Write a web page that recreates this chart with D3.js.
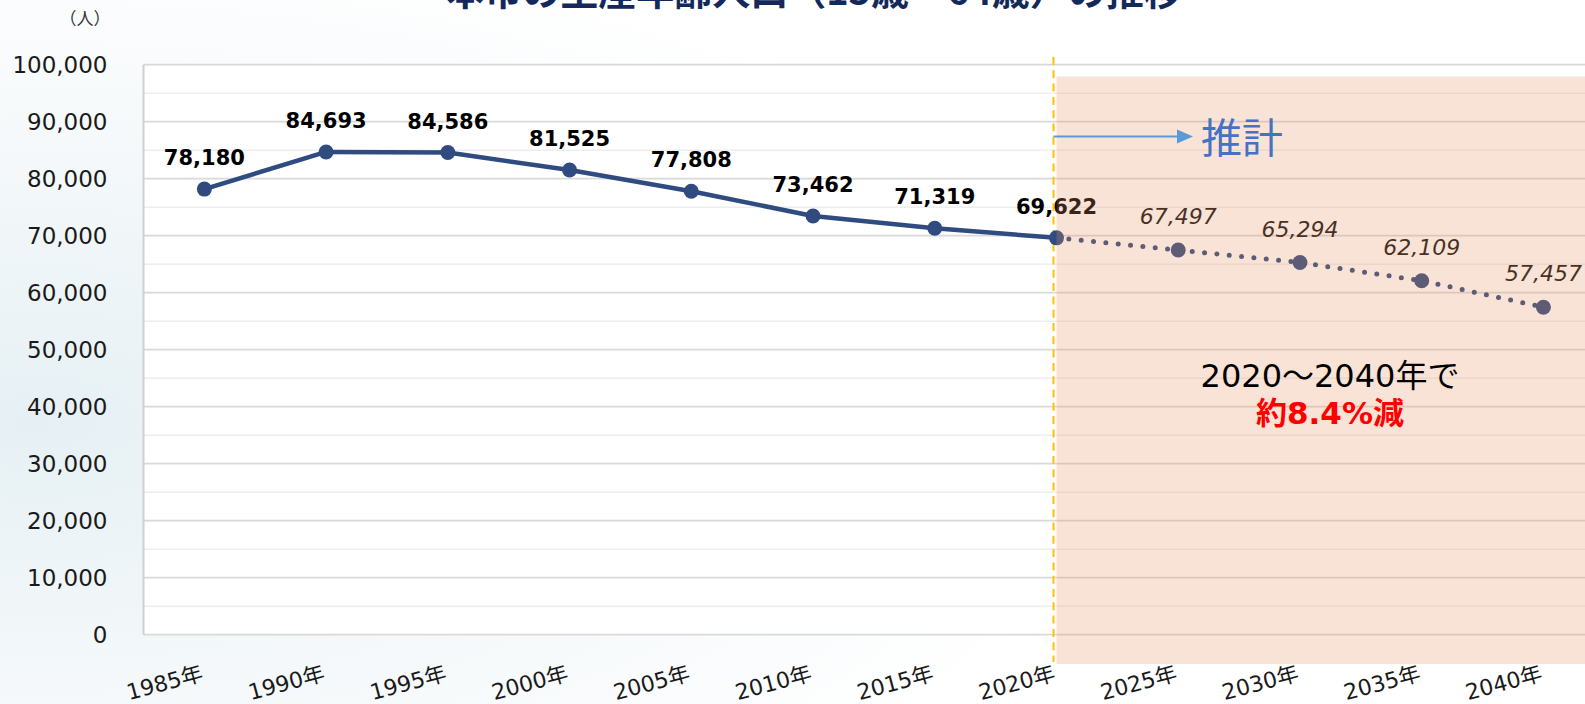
<!DOCTYPE html>
<html>
<head>
<meta charset="utf-8">
<script src="https://cdn.jsdelivr.net/npm/d3@7"></script>
<style>
body { margin: 0; background: #fff; }
svg { display: block; }
</style>
</head>
<body>
<div id="chart"></div>
<script>
// 生産年齢人口の推移（実績と推計）
const years = ["1985年", "1990年", "1995年", "2000年", "2005年", "2010年",
               "2015年", "2020年", "2025年", "2030年", "2035年", "2040年"];
const actualValues = [78180, 84693, 84586, 81525, 77808, 73462, 71319, 69622];
const projectedYears = ["2020年", "2025年", "2030年", "2035年", "2040年"];
const projectedValues = [69622, 67497, 65294, 62109, 57457];
const yTicks = [0, 10000, 20000, 30000, 40000, 50000, 60000, 70000, 80000, 90000, 100000];
const titleText = "本市の生産年齢人口（15歳～64歳）の推移";
const unitText = "（人）";
const forecastText = "推計";
const noteText1 = "2020～2040年で";
const noteText2 = "約8.4%減";

var W = 1585, H = 704;
var latin = "'DejaVu Sans', 'Noto Sans CJK JP', sans-serif";
var cjk = "'Noto Sans CJK JP', sans-serif";

var actual = actualValues.map((v, i) => ({year: years[i], value: v}));
var projected = projectedValues.map((v, i) => ({year: projectedYears[i], value: v}));

var svg = d3.select("#chart")
    .append("svg")
    .attr("width", W)
    .attr("height", H);

var defs = svg.append("defs");
var bg = defs.append("radialGradient")
    .attr("id", "bg")
    .attr("cx", "0.02").attr("cy", "0.6").attr("r", "0.7");
bg.append("stop").attr("offset", "0%").attr("stop-color", "#e6f0f4");
bg.append("stop").attr("offset", "45%").attr("stop-color", "#f2f7f9");
bg.append("stop").attr("offset", "100%").attr("stop-color", "#ffffff");

svg.append("rect")
    .attr("width", W)
    .attr("height", H)
    .attr("fill", "url(#bg)");

var xScale = d3.scaleBand()
    .domain(years)
    .range([143.5, 1604.3]);

var yScale = d3.scaleLinear()
    .domain([0, 100000])
    .range([634.7, 64.7]);

const cx = d => xScale(d) + xScale.bandwidth() / 2;
var plotLeft = xScale.range()[0], plotRight = xScale.range()[1];

// plot area
svg.append("rect")
    .attr("x", plotLeft)
    .attr("y", yScale(100000))
    .attr("width", plotRight - plotLeft)
    .attr("height", yScale(0) - yScale(100000))
    .attr("fill", "#ffffff");

// minor grid
var minor = yScale.ticks(20).filter(d => yTicks.indexOf(d) < 0);
svg.append("g")
    .selectAll("line")
    .data(minor)
    .enter().append("line")
    .attr("x1", plotLeft).attr("x2", plotRight)
    .attr("y1", d => yScale(d)).attr("y2", d => yScale(d))
    .attr("stroke", "#eeeeee")
    .attr("stroke-width", 1.5);

// major grid
svg.append("g")
    .selectAll("line")
    .data(yTicks)
    .enter().append("line")
    .attr("x1", plotLeft).attr("x2", plotRight)
    .attr("y1", d => yScale(d)).attr("y2", d => yScale(d))
    .attr("stroke", "#d9d9d9")
    .attr("stroke-width", 1.8);

svg.append("line")
    .attr("x1", plotLeft).attr("x2", plotLeft)
    .attr("y1", yScale(100000)).attr("y2", yScale(0))
    .attr("stroke", "#d0d0d0")
    .attr("stroke-width", 2);

// y axis
var yAxis = svg.append("g")
    .attr("transform", "translate(" + plotLeft + ",0)")
    .call(d3.axisLeft(yScale).tickValues(yTicks).tickFormat(d3.format(",")).tickSize(0).tickPadding(36));
yAxis.select(".domain").remove();
yAxis.selectAll("text")
    .attr("font-family", latin)
    .attr("font-size", 23)
    .attr("fill", "#1a1a1a");

// x axis
var xAxis = svg.append("g")
    .attr("transform", "translate(0,680)")
    .call(d3.axisBottom(xScale).tickSize(0));
xAxis.select(".domain").remove();
xAxis.selectAll("text")
    .attr("font-family", latin)
    .attr("font-size", 22)
    .attr("fill", "#1a1a1a")
    .attr("text-anchor", "end")
    .attr("x", 0)
    .attr("y", 0)
    .attr("dy", 0)
    .attr("transform", "rotate(-15)");

// divider between actual and projection
var divX = cx("2020年") - 3;
svg.append("line")
    .attr("x1", divX).attr("x2", divX)
    .attr("y1", 57).attr("y2", 662)
    .attr("stroke", "#ffc000")
    .attr("stroke-width", 2)
    .attr("stroke-dasharray", "8,5.3");

var line = d3.line()
    .x(d => cx(d.year))
    .y(d => yScale(d.value));

svg.append("path")
    .datum(actual)
    .attr("fill", "none")
    .attr("stroke", "#2f4b7f")
    .attr("stroke-width", 4.5)
    .attr("stroke-linejoin", "round")
    .attr("d", line);

svg.append("path")
    .datum(projected)
    .attr("fill", "none")
    .attr("stroke", "#2f4b7f")
    .attr("stroke-width", 5)
    .attr("stroke-linecap", "round")
    .attr("stroke-dasharray", "0,12.4")
    .attr("d", line);

svg.append("g")
    .selectAll("circle")
    .data(actual.concat(projected.slice(1)))
    .enter().append("circle")
    .attr("cx", d => cx(d.year))
    .attr("cy", d => yScale(d.value))
    .attr("r", 7.5)
    .attr("fill", "#2f4b7f");

svg.append("g")
    .selectAll("text")
    .data(actual)
    .enter().append("text")
    .attr("x", d => cx(d.year))
    .attr("y", d => yScale(d.value) - 24)
    .attr("text-anchor", "middle")
    .attr("font-family", latin)
    .attr("font-weight", "bold")
    .attr("font-size", 21)
    .attr("fill", "#000")
    .text(d => d3.format(",")(d.value));

svg.append("g")
    .selectAll("text")
    .data(projected.slice(1))
    .enter().append("text")
    .attr("x", d => cx(d.year))
    .attr("y", d => yScale(d.value) - 26)
    .attr("text-anchor", "middle")
    .attr("font-family", latin)
    .attr("font-style", "italic")
    .attr("font-size", 22)
    .attr("fill", "#111")
    .text(d => d3.format(",")(d.value));

// projection shading (semi-transparent, over the marks)
svg.append("rect")
    .attr("x", cx("2020年"))
    .attr("y", 76.5)
    .attr("width", W - cx("2020年"))
    .attr("height", 664 - 76.5)
    .attr("fill", "#e88f5b")
    .attr("fill-opacity", 0.25);

// 推計 arrow
var arrowY = yScale(87400);
svg.append("line")
    .attr("x1", divX).attr("x2", 1178)
    .attr("y1", arrowY).attr("y2", arrowY)
    .attr("stroke", "#5b9bd5")
    .attr("stroke-width", 2);
svg.append("path")
    .attr("d", "M1177," + (arrowY - 7) + "L1193," + arrowY + "L1177," + (arrowY + 7) + "Z")
    .attr("fill", "#5b9bd5");
svg.append("text")
    .attr("x", 1201)
    .attr("y", arrowY + 16)
    .attr("font-family", cjk)
    .attr("font-size", 41)
    .attr("fill", "#4472c4")
    .text(forecastText);

svg.append("text")
    .attr("x", 1330)
    .attr("y", 387)
    .attr("text-anchor", "middle")
    .attr("font-family", latin)
    .attr("font-size", 32)
    .attr("fill", "#000")
    .text(noteText1);
svg.append("text")
    .attr("x", 1330)
    .attr("y", 424)
    .attr("text-anchor", "middle")
    .attr("font-family", latin)
    .attr("font-weight", "bold")
    .attr("font-size", 31)
    .attr("fill", "#ff0000")
    .text(noteText2);

svg.append("text")
    .attr("x", 85)
    .attr("y", 25)
    .attr("text-anchor", "middle")
    .attr("font-family", cjk)
    .attr("font-size", 17)
    .attr("fill", "#333")
    .text(unitText);

svg.append("text")
    .attr("x", 814)
    .attr("y", 5)
    .attr("text-anchor", "middle")
    .attr("font-family", cjk)
    .attr("font-weight", "bold")
    .attr("font-size", 38)
    .attr("fill", "#13285b")
    .text(titleText);
</script>
</body>
</html>
